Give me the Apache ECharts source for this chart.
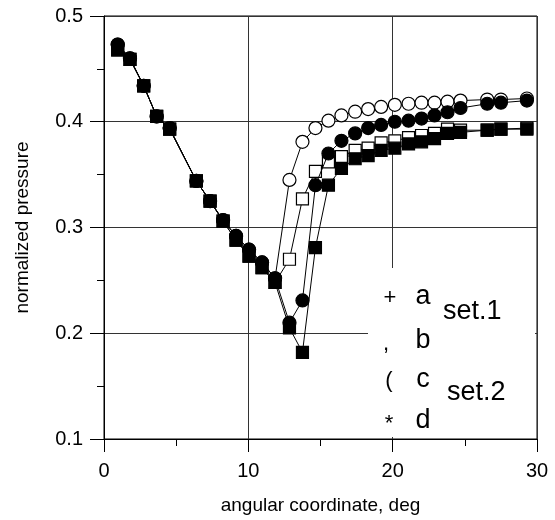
<!DOCTYPE html>
<html>
<head>
<meta charset="utf-8">
<script src="https://cdn.jsdelivr.net/npm/echarts@6/dist/echarts.min.js"></script>
<style>html,body{margin:0;padding:0;background:#fff;}#c{width:555px;height:520px;}</style>
</head>
<body>
<div id="c"></div>
<script>
var angles = [0.95, 1.8, 2.75, 3.65, 4.55, 6.4, 7.35, 8.25, 9.15, 10.05, 10.95, 11.85, 12.85, 13.75, 14.65, 15.55, 16.45, 17.4, 18.3, 19.2, 20.15, 21.1, 22.0, 22.9, 23.8, 24.7, 26.55, 27.5, 29.3];
var seriesA = [0.473, 0.460, 0.434, 0.405, 0.394, 0.344, 0.325, 0.307, 0.292, 0.279, 0.267, 0.252, 0.345, 0.381, 0.394, 0.401, 0.406, 0.4095, 0.412, 0.414, 0.416, 0.417, 0.418, 0.418, 0.419, 0.420, 0.421, 0.421, 0.422];
var seriesB = [0.473, 0.460, 0.434, 0.405, 0.394, 0.344, 0.325, 0.307, 0.292, 0.279, 0.267, 0.252, 0.210, 0.231, 0.340, 0.370, 0.382, 0.389, 0.394, 0.397, 0.400, 0.401, 0.403, 0.406, 0.409, 0.413, 0.417, 0.418, 0.420];
var seriesC = [0.468, 0.459, 0.434, 0.405, 0.393, 0.344, 0.325, 0.306, 0.288, 0.273, 0.262, 0.248, 0.270, 0.327, 0.353, 0.362, 0.367, 0.373, 0.375, 0.380, 0.382, 0.385, 0.387, 0.389, 0.393, 0.392, 0.392, 0.393, 0.394];
var seriesD = [0.468, 0.459, 0.434, 0.405, 0.393, 0.344, 0.325, 0.306, 0.288, 0.273, 0.262, 0.248, 0.205, 0.182, 0.281, 0.340, 0.356, 0.365, 0.368, 0.373, 0.375, 0.379, 0.381, 0.384, 0.389, 0.390, 0.392, 0.393, 0.393];
var legendSymbols = ['+', ',', '(', '*'];
var legendNames = ['a', 'b', 'c', 'd'];
var setNames = ['set.1', 'set.2'];

function pairs(ys){ return angles.map(function(x,i){ return [x, ys[i]]; }); }

var chart = echarts.init(document.getElementById('c'), null, {renderer:'canvas'});
var FONT = '"Liberation Sans", Arial, sans-serif';
function mk(name, data, symbol, size, filled, z){
  return {
    name: name, type: 'line', data: pairs(data), symbol: symbol, symbolSize: size,
    showAllSymbol: true, z: z,
    lineStyle: {color: '#000', width: 1},
    itemStyle: {color: filled ? '#000' : '#fff', borderColor: '#000', borderWidth: 1.2},
    emphasis: {disabled: true}, animation: false
  };
}
var lx = [390, 386, 389, 389];
var ly = [298, 344, 381, 424];
var ny = [297, 341, 380, 421];
var graphics = [{
  type: 'rect', shape: {x: 368, y: 268, width: 167, height: 169}, style: {fill: '#fff'}, z: 5, silent: true
}];
for (var i = 0; i < 4; i++) {
  graphics.push({type: 'text', x: lx[i], y: ly[i], z: 6, style: {text: legendSymbols[i], font: '22px ' + FONT, fill: '#000', textAlign: 'center', textVerticalAlign: 'middle'}});
  graphics.push({type: 'text', x: 423, y: ny[i], z: 6, style: {text: legendNames[i], font: '27px ' + FONT, fill: '#000', textAlign: 'center', textVerticalAlign: 'middle'}});
}
graphics.push({type: 'text', x: 443, y: 312, z: 6, style: {text: setNames[0], font: '27px ' + FONT, fill: '#000', textAlign: 'left', textVerticalAlign: 'middle'}});
graphics.push({type: 'text', x: 447, y: 393, z: 6, style: {text: setNames[1], font: '27px ' + FONT, fill: '#000', textAlign: 'left', textVerticalAlign: 'middle'}});

chart.setOption({
  animation: false,
  backgroundColor: '#fff',
  grid: {left: 104, right: 18, top: 16, bottom: 77, show: true, borderColor: '#000', borderWidth: 1, backgroundColor: 'transparent'},
  xAxis: {
    type: 'value', min: 0, max: 30, interval: 10,
    name: 'angular coordinate, deg', nameLocation: 'middle', nameGap: 57,
    nameTextStyle: {fontFamily: FONT, fontSize: 19, color: '#000'},
    axisLine: {show: true, onZero: false, lineStyle: {color: '#000', width: 1}},
    axisTick: {show: true, length: 13, inside: false, lineStyle: {color: '#000', width: 1}},
    minorTick: {show: true, splitNumber: 2, length: 7, lineStyle: {color: '#000', width: 1}},
    axisLabel: {fontFamily: FONT, fontSize: 20, color: '#000', margin: 22},
    splitLine: {show: true, lineStyle: {color: '#333', width: 1}}
  },
  yAxis: {
    type: 'value', min: 0.1, max: 0.5, interval: 0.1,
    name: 'normalized pressure', nameLocation: 'middle', nameGap: 72,
    nameTextStyle: {fontFamily: FONT, fontSize: 19, color: '#000'},
    axisLine: {show: true, onZero: false, lineStyle: {color: '#000', width: 1}},
    axisTick: {show: true, length: 14, inside: false, lineStyle: {color: '#000', width: 1}},
    minorTick: {show: true, splitNumber: 2, length: 7, lineStyle: {color: '#000', width: 1}},
    axisLabel: {fontFamily: FONT, fontSize: 20, color: '#000', margin: 21, formatter: function(v){ return v.toFixed(1); }},
    splitLine: {show: true, lineStyle: {color: '#333', width: 1}}
  },
  series: [
    mk('a', seriesA, 'circle', 13, false, 2),
    mk('c', seriesC, 'rect', 12, false, 3),
    mk('b', seriesB, 'circle', 13, true, 4),
    mk('d', seriesD, 'rect', 12, true, 5)
  ],
  graphic: graphics
});
</script>
</body>
</html>
